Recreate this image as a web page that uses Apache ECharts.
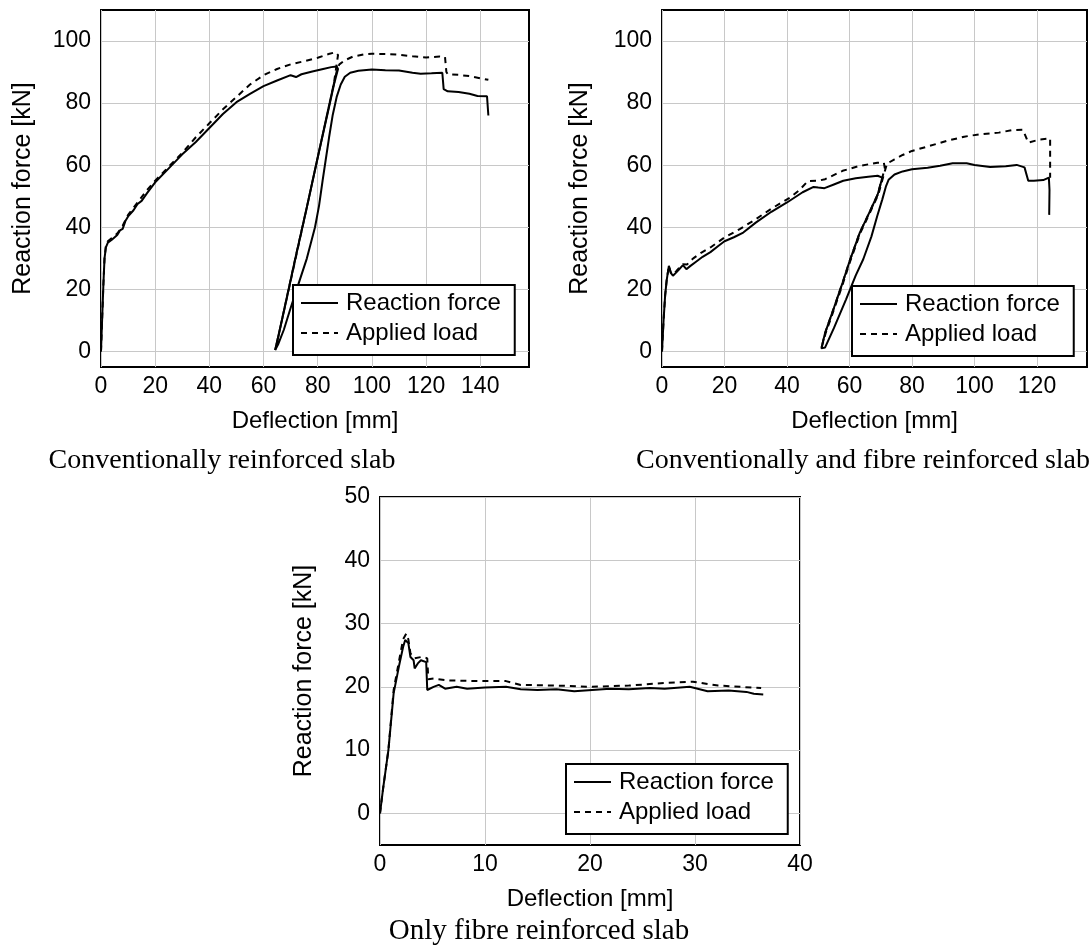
<!DOCTYPE html>
<html>
<head>
<meta charset="utf-8">
<script src="https://cdn.jsdelivr.net/npm/echarts@6.0.0/dist/echarts.min.js"></script>
<style>
html,body{margin:0;padding:0;background:#fff;}
#chart{width:1092px;height:947px;}
</style>
</head>
<body>
<div id="chart"></div>
<script>
// ---------- DATA ----------
const seriesNames = ['Reaction force', 'Applied load'];
const panelTitles = ['Conventionally reinforced slab', 'Conventionally and fibre reinforced slab', 'Only fibre reinforced slab'];
const xAxisName = 'Deflection [mm]';
const yAxisName = 'Reaction force [kN]';

const x1Ticks = [0, 20, 40, 60, 80, 100, 120, 140];
const y1Ticks = [0, 20, 40, 60, 80, 100];
const x2Ticks = [0, 20, 40, 60, 80, 100, 120];
const y2Ticks = [0, 20, 40, 60, 80, 100];
const x3Ticks = [0, 10, 20, 30, 40];
const y3Ticks = [0, 10, 20, 30, 40, 50];

// Panel 1: conventionally reinforced slab
const c1Reaction = [[0,0],[0.4,10],[0.9,22],[1.3,30],[1.8,33.5],[2.5,35],[4,36],[6,37.5],[7,39],[8,39.5],[9,42],[10,43.5],[12,45.5],[13.5,47.5],[15,48.5],[17,51],[20,54.5],[25,59],[30,63.5],[35,67.5],[40,72],[45,76.5],[50,80.3],[55,83],[60,85.5],[65,87.3],[70,89],[72,88.4],[74,89.3],[78,90.2],[82,91],[85,91.6],[87,91.8],[87.5,91],
  [86,86],[84,78],[80,62.5],[76,46.5],[72,31],[68,15],[65.5,5],[64.3,0.5],
  [65.5,2.5],[67.5,7],[70,14],[73,22],[76,30],[79,40],[80.5,47],[81.8,55],[83,62],[84.2,69],[85.5,76],[87,82],[88.5,86],[90,88.5],[92,89.8],[95,90.4],[100,90.8],[105,90.6],[110,90.5],[115,89.8],[118,89.5],[122,89.6],[126,89.8],[126.5,84.5],[128,83.8],[132,83.6],[136,83],[139,82.3],[142.5,82.2],[143,76]];
const c1Applied = [[0,0],[0.4,10],[0.9,22],[1.3,30],[1.8,34],[2.5,35.5],[4,36.5],[6,38],[8,40.5],[10,44],[13.5,48],[17,52],[20,55],[25,59.5],[30,64],[35,69],[40,73.5],[45,78],[50,82],[55,86],[60,89],[65,91],[70,92.5],[75,93.5],[80,94.6],[84,95.8],[86.5,96.4],[87.5,95.5],
  [86,86.5],[84,78.5],[80,62.5],[76,46.5],[72,31],[68,15],[65.5,5],[64.3,0.5],
  [66,7],[70,22.7],[75,42.5],[80,62.5],[84,78.5],[87.2,91],[88,92.5],[90,93.8],[93,95],[97,95.7],[100,95.9],[105,95.8],[110,95.6],[115,95.1],[120,94.7],[125,95],[127,94.8],[127.5,90],[128,89.3],[132,89.1],[136,88.7],[140,88],[143,87.5]];

// Panel 2: conventionally and fibre reinforced slab
const c2Reaction = [[0,0],[0.5,10],[1,18],[1.5,23],[2.2,27.6],[2.8,25.3],[3.5,24.4],[4.5,25.4],[5.5,26.5],[6.7,27.8],[7.8,26.5],[9,27.5],[11,29],[13,30.5],[15.5,32],[18,34],[20,35.5],[23,36.8],[26,38.3],[30,41.5],[35,45],[40,48],[45,51.3],[48.5,53],[50,52.8],[52,52.6],[55,53.8],[58,55],[62,55.8],[66,56.3],[69,56.6],[70.5,56],
  [69,50.5],[66,44],[63.3,38.3],[60,29],[57.8,22.2],[55,14],[52.2,6],[51,1],
  [52.2,1.3],[55,7.5],[58.9,16.8],[62,24.5],[64.4,29.7],[67,37],[68.9,43.7],[70.5,49],[71.7,53.3],[72.5,55.3],[74.4,57],[77,58],[80,58.7],[85,59.2],[89,59.8],[93,60.6],[97.5,60.6],[100,60.1],[105,59.4],[110,59.7],[113.5,60.1],[116,59.3],[117.2,55],[119,55],[122,55.2],[123.8,56],[124,52],[123.9,44]];
const c2Applied = [[0,0],[0.5,10],[1,18],[1.5,23],[2.2,27.6],[2.8,25.5],[3.5,24.8],[4.5,25.8],[5.5,27],[6.7,28.1],[8,28],[10,30],[12.5,31.8],[15.5,33.5],[18,35.3],[20,36.7],[25,39.5],[30,42.6],[35,46],[41,49.6],[44,52],[46.7,54.9],[50,55],[52.2,55.5],[57.8,58.2],[63.3,59.8],[68.9,60.8],[71,60.8],[71.3,59],
  [69,50.5],[66,44],[63.3,38.3],[60,29],[57.8,22.2],[55,14],[52.2,6],[51,1],
  [52.4,6],[55.2,14],[58,22.2],[60.2,29],[63.5,38.3],[66.2,44],[69.2,50.5],[71,57],[72,60.5],[74.4,61.9],[77,63.3],[80,64.6],[85.6,66.2],[91,67.8],[96.7,69.2],[102,70],[107.8,70.5],[112,71.3],[115.5,71.4],[117.2,67.3],[121,68.3],[124.2,68.6],[124.2,63],[124.2,56]];

// Panel 3: only fibre reinforced slab
const c3Reaction = [[0,0],[0.3,4],[0.8,10],[1.3,19],[1.8,23.2],[2.2,26.3],[2.4,27.4],[2.7,26.9],[2.9,24.7],[3.2,24.2],[3.3,22.9],[3.6,23.7],[3.9,24.2],[4.4,23.9],[4.5,19.5],[5.1,20],[5.6,20.3],[6.2,19.7],[7.3,20],[8.3,19.7],[10,19.9],[12,20],[13.4,19.6],[15,19.5],[16.8,19.6],[18.5,19.3],[20.2,19.5],[21.9,19.7],[23.7,19.6],[25.7,19.8],[27.1,19.7],[29.5,20],[31.2,19.3],[33.2,19.4],[34.9,19.2],[35.6,18.9],[36.5,18.8]];
const c3Applied = [[0,0],[0.3,4],[0.8,10],[1.3,19.5],[1.8,24],[2.2,27.5],[2.5,28.4],[2.7,27.5],[2.9,25.3],[3.3,24.5],[3.9,24.7],[4.2,24.7],[4.5,24.5],[4.6,21.2],[5.1,21.3],[6.6,21],[10,20.9],[12,20.9],[13.4,20.3],[16.8,20.2],[20.2,20],[23.7,20.2],[27.1,20.6],[29.8,20.8],[32.2,20.2],[36.3,19.8]];

// ---------- CHART ----------
const FONT = '"Liberation Sans", Arial, sans-serif';
const SERIF = '"Liberation Serif", "Times New Roman", serif';

const panels = [
  {grid:{left:101, top:10, width:428, height:357}, xMin:0, xMax:158, yMin:-5, yMax:110, xTicks:x1Ticks, yTicks:y1Ticks, yGap:65,
   legend:{left:293, top:285}, data:[c1Reaction, c1Applied], title:{x:222, y:461, size:28}},
  {grid:{left:662, top:10, width:425, height:357}, xMin:0, xMax:136, yMin:-5, yMax:110, xTicks:x2Ticks, yTicks:y2Ticks, yGap:69,
   legend:{left:852, top:286}, data:[c2Reaction, c2Applied], title:{x:863, y:461, size:28}},
  {grid:{left:380, top:497, width:420, height:348}, xMin:0, xMax:40, yMin:-5, yMax:50, xTicks:x3Ticks, yTicks:y3Ticks, yGap:63,
   legend:{left:566, top:764}, data:[c3Reaction, c3Applied], title:{x:539, y:931, size:29}}
];

const option = {
  animation: false,
  backgroundColor: '#fff',
  grid: panels.map(p => Object.assign({show:true, borderColor:'#000', borderWidth:2, backgroundColor:'transparent'}, p.grid)),
  xAxis: panels.map((p, i) => ({
    type:'value', gridIndex:i, min:p.xMin, max:p.xMax,
    name:xAxisName, nameLocation:'middle', nameGap:42,
    nameTextStyle:{fontFamily:FONT, fontSize:24, color:'#000'},
    axisLine:{show:false}, axisTick:{show:false, customValues:p.xTicks},
    axisLabel:{customValues:p.xTicks, fontFamily:FONT, fontSize:23, color:'#000', margin:8, showMinLabel:true, showMaxLabel:true},
    splitLine:{show:true, lineStyle:{color:'#c8c8c8', width:1}}
  })),
  yAxis: panels.map((p, i) => ({
    type:'value', gridIndex:i, min:p.yMin, max:p.yMax,
    name:yAxisName, nameLocation:'middle', nameGap:p.yGap,
    nameTextStyle:{fontFamily:FONT, fontSize:25, color:'#000'},
    axisLine:{show:false}, axisTick:{show:false, customValues:p.yTicks},
    axisLabel:{customValues:p.yTicks, fontFamily:FONT, fontSize:23, color:'#000', margin:10, showMinLabel:true, showMaxLabel:true},
    splitLine:{show:true, lineStyle:{color:'#c8c8c8', width:1}}
  })),
  legend: panels.map(p => ({
    orient:'vertical', left:p.legend.left, top:p.legend.top,
    data: seriesNames, itemWidth:37, itemHeight:14, itemGap:4,
    padding:[5, 14, 9, 7],
    borderColor:'#000', borderWidth:2, backgroundColor:'#fff',
    itemStyle:{color:'rgba(0,0,0,0)', borderColor:'rgba(0,0,0,0)', borderWidth:0, opacity:0},
    textStyle:{fontFamily:FONT, fontSize:24, color:'#000', lineHeight:26, padding:[0,0,0,3]},
    selectedMode:false
  })),
  graphic: panels.map((p, i) => ({
    type:'text', x:p.title.x, y:p.title.y,
    style:{text:panelTitles[i], fontFamily:SERIF, fontSize:p.title.size, fill:'#000', align:'center', verticalAlign:'middle'}
  })),
  series: []
};

panels.forEach((p, i) => {
  seriesNames.forEach((name, k) => {
    option.series.push({
      type:'line', name:name, xAxisIndex:i, yAxisIndex:i,
      data:p.data[k], symbol:'none', showSymbol:false,
      lineStyle:{color:'#000', width:2, type: k === 0 ? 'solid' : [6, 5]},
      itemStyle:{color:'#000'},
      z: k === 0 ? 3 : 2
    });
  });
});

const chart = echarts.init(document.getElementById('chart'), null, {renderer:'canvas'});
chart.setOption(option);
</script>
</body>
</html>
